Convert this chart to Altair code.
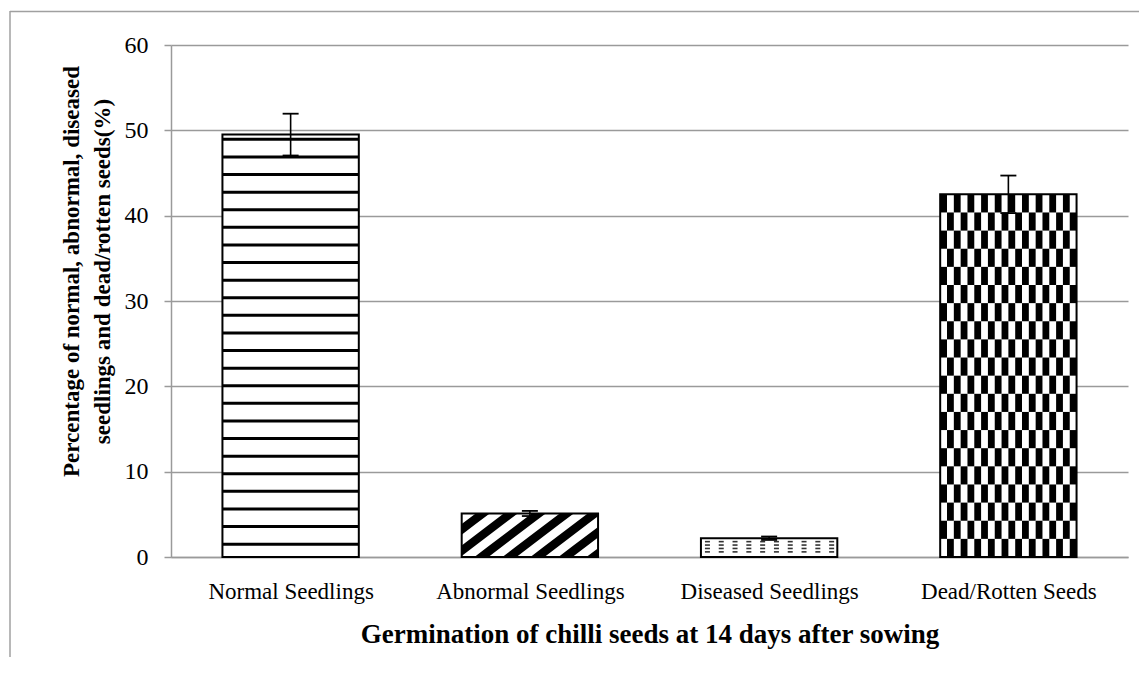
import json
import numpy as np
import pandas as pd
import altair as alt

# ---------------- data ----------------
categories = ["Normal Seedlings", "Abnormal Seedlings", "Diseased Seedlings", "Dead/Rotten Seeds"]
values = [49.5, 5.1, 2.2, 42.5]
errors = [2.45, 0.3, 0.2, 2.2]
y_ticks = [0, 10, 20, 30, 40, 50, 60]
y_title = ["Percentage of normal, abnormal, diseased", "seedlings and dead/rotten seeds(%)"]
x_title = "Germination of chilli seeds at 14 days after sowing"

# ---------------- layout / style constants ----------------
W, H = 957, 512
YMAX = 60
BAR_FRAC = 0.57
N = len(categories)
PX_X = W / N          # pixels per x unit
PX_Y = H / YMAX       # pixels per y unit
FONT = "Liberation Serif"
GRID = "#9a9a9a"

idx = np.arange(N)
vals = np.array(values)
errs = np.array(errors)
bars = pd.DataFrame({
    "cat": categories,
    "y": vals,
    "y2": np.zeros(N),
    "x": idx + (1 - BAR_FRAC) / 2,
    "x2": idx + (1 + BAR_FRAC) / 2,
    "xc": idx + 0.5,
    "lo": vals - errs,
    "hi": vals + errs,
})
bar_w_px = BAR_FRAC * PX_X

# ---- pattern 1: horizontal stripes (Normal Seedlings) ----
n_lines = 24
step = values[0] / n_lines
h_lines = pd.DataFrame({
    "x": bars.x[0], "x2": bars.x2[0],
    "y": 0.73 * step + step * np.arange(n_lines),
})

# ---- pattern 2: diagonal stripes (Abnormal Seedlings) ----
def diag_stripes(i, period=28.0, w=14.0, slope=0.76):
    hb = values[i] * PX_Y
    rows = []
    c = -hb / slope - w - period
    sid = 0
    while c < bar_w_px:
        cand = [0.0, bar_w_px] + [b for b in (c, c + w, c + hb / slope, c + w + hb / slope)
                                  if 0 < b < bar_w_px]
        bps = sorted(set(cand))
        lows = [min(max(slope * (u - c - w), 0), hb) for u in bps]
        ups = [min(max(slope * (u - c), 0), hb) for u in bps]
        if any(up - lo > 0.01 for up, lo in zip(ups, lows)):
            for u, lo, up in zip(bps, lows, ups):
                rows.append({"sid": sid, "x": bars.x[i] + u / PX_X,
                             "y": lo / PX_Y, "y2": up / PX_Y})
            sid += 1
        c += period
    return pd.DataFrame(rows)

diag = diag_stripes(1)

# ---- pattern 3: short dashes (Diseased Seedlings) ----
dash_rows = np.linspace(0.6, 1.8, 4)
dash_cols = 4.0 + 13.8 * np.arange(10)
dash_recs = []
for yv in dash_rows:
    for u in dash_cols:
        dash_recs.append({"x": bars.x[2] + u / PX_X, "x2": bars.x[2] + (u + 5) / PX_X, "y": yv})
dashes = pd.DataFrame(dash_recs)

# ---- pattern 4: checkerboard (Dead/Rotten Seeds) ----
nc, nr = 20, 20
cw = (bars.x2[3] - bars.x[3]) / nc
rh = values[3] / nr
chk = []
for r in range(nr):
    for c in range(nc):
        if (r + c) % 2 == 1:
            chk.append({"x": bars.x[3] + c * cw, "x2": bars.x[3] + (c + 1) * cw,
                        "y": r * rh, "y2": (r + 1) * rh})
checker = pd.DataFrame(chk)

# ---- error bar caps ----
cap_half = 8 / PX_X
caps = pd.DataFrame({
    "x": np.concatenate([bars.xc - cap_half, bars.xc - cap_half]),
    "x2": np.concatenate([bars.xc + cap_half, bars.xc + cap_half]),
    "y": np.concatenate([bars.lo, bars.hi]),
})

# ---------------- scales / axes ----------------
xs = alt.Scale(domain=[0, N], nice=False, zero=False)
ys = alt.Scale(domain=[0, YMAX], nice=False, zero=True)

label_expr = f"{json.dumps(categories)}[floor(datum.value)]"
x_axis = alt.Axis(
    values=[i + 0.5 for i in range(N)], labelExpr=label_expr, grid=False,
    ticks=False, tickSize=0, domainColor=GRID, domainWidth=1.5,
    labelFont=FONT, labelFontSize=23, labelColor="black", labelPadding=23,
    labelBaseline="top", labelLimit=0, labelOverlap=False,
    title=x_title, titleFont=FONT, titleFontSize=27, titleFontWeight="bold",
    titleColor="black", titleX=W / 2, titleY=85, titleBaseline="alphabetic",
    titleAlign="center", titleLimit=0,
)
y_axis = alt.Axis(
    values=y_ticks, grid=True, gridColor=GRID, gridWidth=1.5,
    domainColor=GRID, domainWidth=1.5, tickColor=GRID, tickWidth=1.5, tickSize=7,
    labelFont=FONT, labelFontSize=24, labelColor="black", labelPadding=16,
    title=y_title, titleFont=FONT, titleFontSize=23, titleFontWeight="bold",
    titleColor="black", titleAngle=270, titleAlign="center", titleBaseline="alphabetic",
    titleX=-93, titleY=226, titleLineHeight=31, titleLimit=0,
)

def X(field):
    return alt.X(field, scale=xs)

def Y(field):
    return alt.Y(field, scale=ys)

base_fill = alt.Chart(bars).mark_rect(fill="white").encode(
    x=alt.X("x:Q", scale=xs, axis=x_axis),
    x2="x2:Q",
    y=alt.Y("y:Q", scale=ys, axis=y_axis),
    y2="y2:Q",
)

stripe_layer = alt.Chart(h_lines).mark_rule(color="black", strokeWidth=3).encode(
    x=X("x:Q"), x2="x2:Q", y=Y("y:Q"),
)

diag_layer = alt.Chart(diag).mark_area(color="black", orient="vertical", opacity=1).encode(
    x=X("x:Q"), y=Y("y:Q"), y2="y2:Q", detail="sid:N",
)

dash_layer = alt.Chart(dashes).mark_rule(color="#333333", strokeWidth=1.6).encode(
    x=X("x:Q"), x2="x2:Q", y=Y("y:Q"),
)

check_layer = alt.Chart(checker).mark_rect(color="black").encode(
    x=X("x:Q"), x2="x2:Q", y=Y("y:Q"), y2="y2:Q",
)

outline = alt.Chart(bars).mark_rect(filled=False, stroke="black", strokeWidth=2).encode(
    x=X("x:Q"), x2="x2:Q", y=Y("y:Q"), y2="y2:Q",
)

err_rule = alt.Chart(bars).mark_rule(color="black", strokeWidth=1.6).encode(
    x=X("xc:Q"), y=Y("lo:Q"), y2="hi:Q",
)

cap_layer = alt.Chart(caps).mark_rule(color="black", strokeWidth=1.8).encode(
    x=X("x:Q"), x2="x2:Q", y=Y("y:Q"),
)

frame_df = pd.DataFrame({"k": [0]})
frame_top = alt.Chart(frame_df).mark_rule(color="#a0a0a0", strokeWidth=1.5).encode(
    x=alt.value(-161), x2=alt.value(W + 30), y=alt.value(-33.5),
)
frame_left = alt.Chart(frame_df).mark_rule(color="#a0a0a0", strokeWidth=1.5).encode(
    x=alt.value(-161), y=alt.value(-34), y2=alt.value(H + 110),
)

chart = alt.layer(
    base_fill, stripe_layer, diag_layer, dash_layer, check_layer,
    outline, err_rule, cap_layer, frame_top, frame_left,
).properties(
    width=W, height=H,
    autosize=alt.AutoSizeParams(type="none"),
    padding={"left": 163, "top": 37, "right": 11, "bottom": 100},
    background="white",
).configure_view(stroke=None)

chart.save("out.html", embed_options={"renderer": "svg", "actions": False})
